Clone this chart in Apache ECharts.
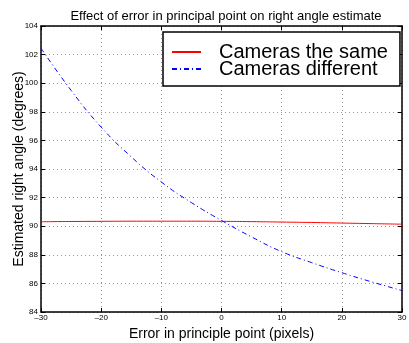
<!DOCTYPE html>
<html><head><meta charset="utf-8">
<script src="https://cdn.jsdelivr.net/npm/echarts@6/dist/echarts.min.js"></script>
<style>html,body{margin:0;padding:0;background:#fff}#c{width:409px;height:343px}</style>
</head><body><div id="c"></div>
<script>
const xValues = [-30, -25, -20, -15, -10, -5, 0, 5, 10, 15, 20, 25, 30];
const sameValues = [90.31, 90.33, 90.34, 90.35, 90.35, 90.35, 90.34, 90.32, 90.29, 90.26, 90.22, 90.18, 90.14];
const diffValues = [102.45, 99.5, 96.93, 94.85, 93.09, 91.65, 90.4, 89.25, 88.22, 87.45, 86.75, 86.1, 85.5];
const seriesNames = ['Cameras the same', 'Cameras different'];
const titleText = 'Effect of error in principal point on right angle estimate';
const xName = 'Error in principle point (pixels)';
const yName = 'Estimated right angle (degrees)';

const F = 'Liberation Sans, Arial, sans-serif';
const chart = echarts.init(document.getElementById('c'), null, {renderer: 'canvas'});
const gridLine = {show: true, lineStyle: {color: '#999', type: [1, 3], width: 1}};
chart.setOption({
  animation: false,
  title: {text: titleText, left: 221, top: 5, textAlign: 'center',
    textStyle: {fontFamily: F, fontSize: 13, fontWeight: 'normal', color: '#000'}},
  grid: {left: 41, right: 7, top: 26, bottom: 31, outerBoundsMode: 'none', containLabel: false},
  legend: {
    data: seriesNames, orient: 'vertical', left: 163, top: 32,
    backgroundColor: '#fff', borderColor: '#000', borderWidth: 1.5, borderRadius: 0,
    padding: [10, 12, 7, 8], itemGap: -3, itemWidth: 29, itemHeight: 12,
    itemStyle: {color: 'transparent', borderColor: 'transparent', borderWidth: 0, opacity: 0},
    textStyle: {fontFamily: F, fontSize: 20, color: '#000', lineHeight: 17, padding: [0, 0, 0, 13]}
  },
  xAxis: [{
    type: 'value', min: -30, max: 30, interval: 10,
    name: xName, nameLocation: 'middle', nameGap: 15, nameMoveOverlap: false,
    nameTextStyle: {fontFamily: F, fontSize: 14, color: '#000'},
    axisLine: {onZero: false, lineStyle: {color: '#000', width: 1.5}},
    axisTick: {inside: true, length: 4, lineStyle: {color: '#000'}},
    axisLabel: {fontFamily: F, fontSize: 8, color: '#000', margin: 2,
      formatter: v => String(v).replace('-', '\u2013')},
    splitLine: gridLine
  }, {
    type: 'value', min: -30, max: 30, interval: 10, position: 'top',
    axisLine: {onZero: false, lineStyle: {color: '#000', width: 1.5}},
    axisTick: {inside: true, length: 4, lineStyle: {color: '#000'}},
    axisLabel: {show: false}, splitLine: {show: false}
  }],
  yAxis: [{
    type: 'value', min: 84, max: 104, interval: 2,
    name: yName, nameLocation: 'middle', nameGap: 15, nameMoveOverlap: false,
    nameTextStyle: {fontFamily: F, fontSize: 14, color: '#000'},
    axisLine: {show: true, onZero: false, lineStyle: {color: '#000', width: 1.5}},
    axisTick: {show: true, inside: true, length: 4, lineStyle: {color: '#000'}},
    axisLabel: {fontFamily: F, fontSize: 8, color: '#000', margin: 3},
    splitLine: gridLine
  }, {
    type: 'value', min: 84, max: 104, interval: 2, position: 'right',
    axisLine: {show: true, onZero: false, lineStyle: {color: '#000', width: 1.5}},
    axisTick: {show: true, inside: true, length: 4, lineStyle: {color: '#000'}},
    axisLabel: {show: false}, splitLine: {show: false}
  }],
  series: [{
    name: seriesNames[0], type: 'line', smooth: true, showSymbol: false, symbol: 'none',
    data: xValues.map((x, i) => [x, sameValues[i]]),
    lineStyle: {color: '#ff0000', width: 1}, itemStyle: {color: '#ff0000'}
  }, {
    name: seriesNames[1], type: 'line', smooth: true, showSymbol: false, symbol: 'none',
    data: xValues.map((x, i) => [x, diffValues[i]]),
    lineStyle: {color: '#0000ff', width: 1, type: [5, 3, 1, 3]}, itemStyle: {color: '#0000ff'}
  }]
});
</script></body></html>
